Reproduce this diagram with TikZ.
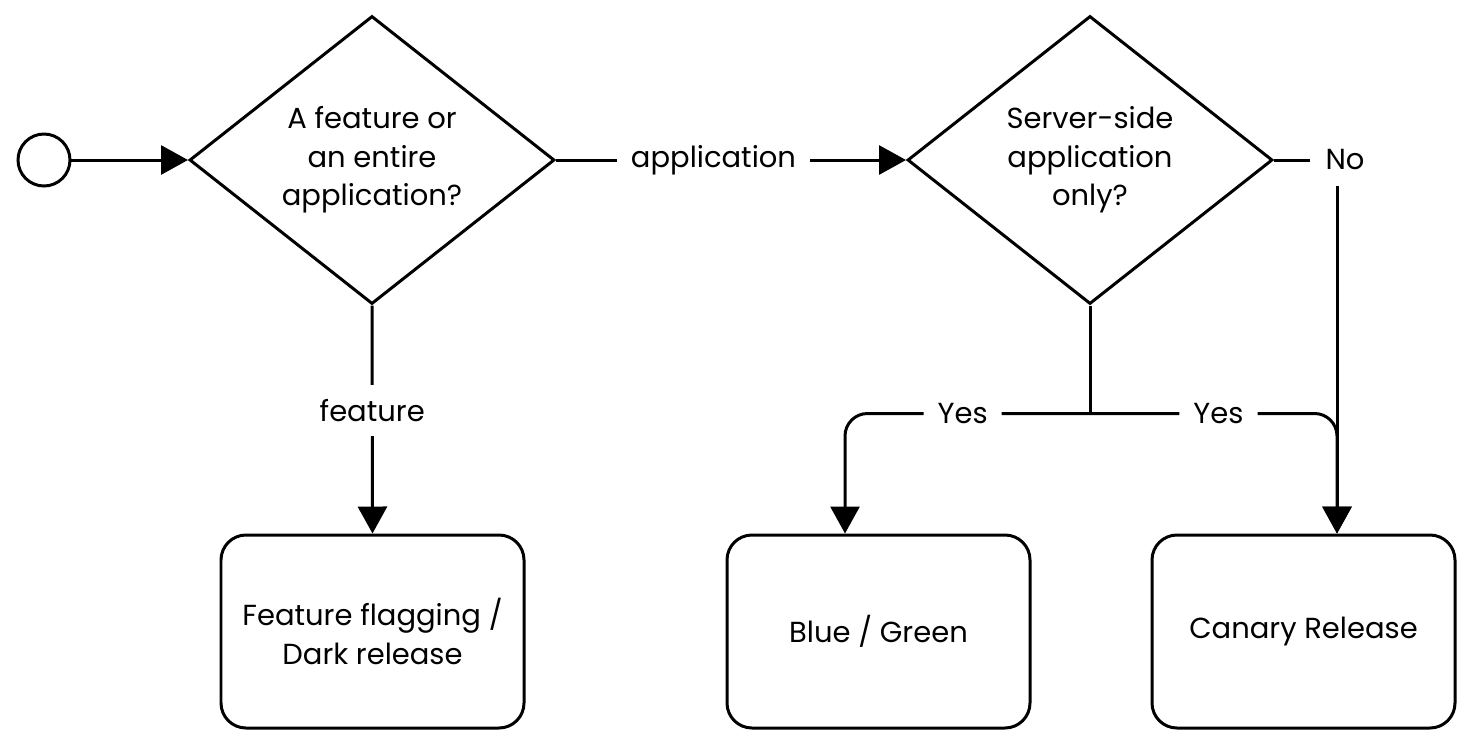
\documentclass[tikz,border=0pt]{standalone}
\usepackage{fontspec}
\setmainfont{Poppins}
\usetikzlibrary{shapes,arrows.meta,positioning,calc}

\begin{document}
\begin{tikzpicture}[
    line width=1.7pt,
    every node/.style={font=\fontsize{16.5}{22}\selectfont, align=center},
    decision/.style={diamond, draw, aspect=1.27, inner sep=0pt, minimum width=7.3cm, minimum height=5.76cm},
    outcome/.style={rectangle, draw, rounded corners=0.5cm, minimum width=6.06cm, minimum height=3.86cm},
    lbl/.style={fill=white, inner sep=8pt},
    arrow/.style={-{Triangle[length=0.54cm, width=0.58cm]}}
]
    \useasboundingbox (0,0) rectangle (29.42,-14.94);
    % start and questions
    \node[circle, draw, minimum size=1.04cm, inner sep=0pt] (start) at (0.88,-3.2) {};
    \node[decision] (q1) at (7.44,-3.2) {A feature or\\an entire\\application?};
    \node[decision] (q2) at (21.8,-3.2) {Server-side\\application\\only?};
    % outcomes
    \node[outcome] (flag) at (7.45,-12.63) {Feature flagging /\\Dark release};
    \node[outcome] (bg) at (17.57,-12.63) {Blue / Green};
    \node[outcome] (canary) at (26.07,-12.63) {Canary Release};

    \coordinate (split) at ($(q2.south)+(0,-2.16)$);
    \coordinate (bgin) at ($(bg.north)+(-0.67,0)$);
    \coordinate (canin) at ($(canary.north)+(0.67,0)$);
    \node[lbl] (no) at (26.9,-3.2) {No};

    \draw[arrow] (start.east) -- (q1.west);
    \draw[arrow] (q1.east) -- node[lbl, pos=0.45] {application} (q2.west);
    \draw[arrow] (q1.south) -- node[lbl, pos=0.46] {feature} (flag.north);
    \draw (q2.south) -- (split);
    \draw[arrow, rounded corners=0.45cm] (split) -- node[lbl, pos=0.52] {Yes} (split -| bgin) -- (bgin);
    \draw[arrow, rounded corners=0.45cm] (split) -- node[lbl, pos=0.52] {Yes} (split -| canin) -- (canin);
    \draw (q2.east) -- (no.west);
    \draw[arrow] (no.south -| canin) -- (canin);
\end{tikzpicture}
\end{document}
